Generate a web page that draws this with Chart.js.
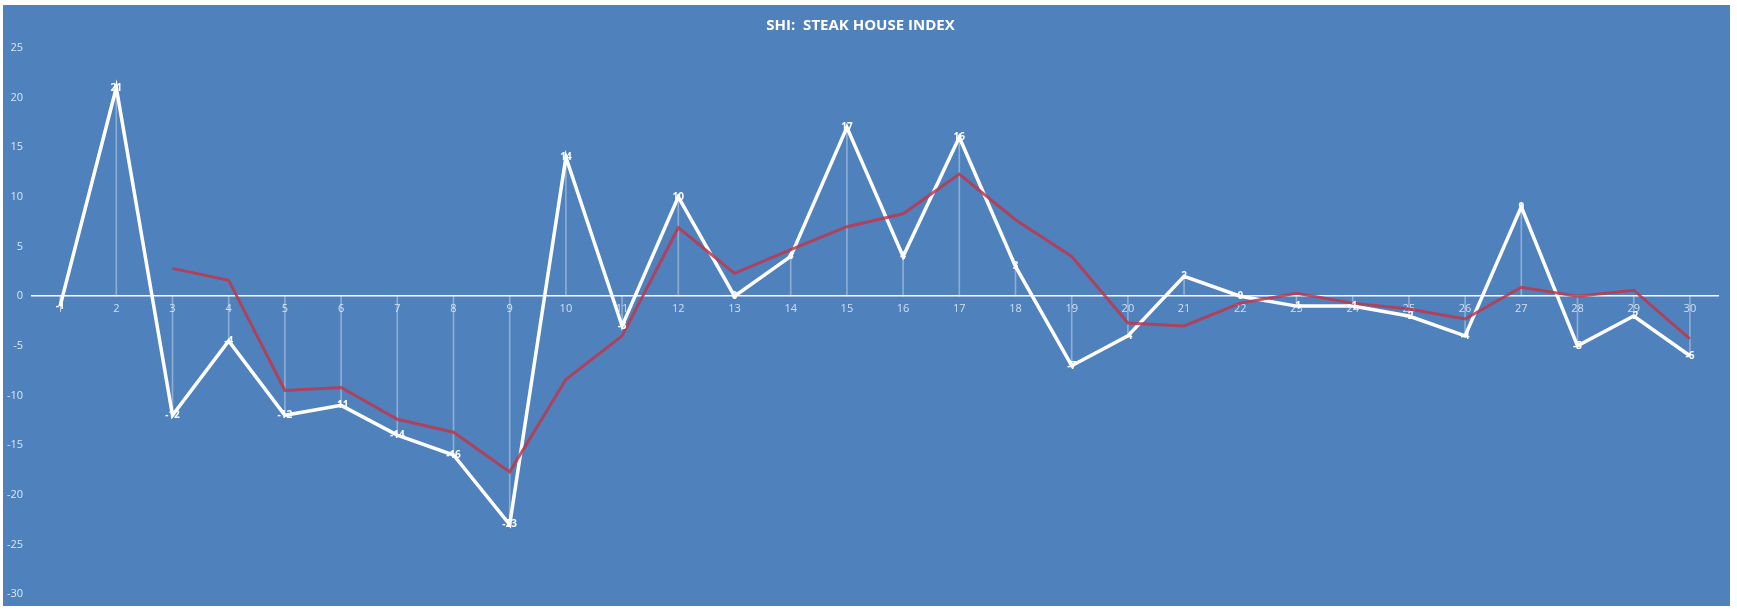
<!DOCTYPE html>
<html>
<head>
<meta charset="utf-8">
<title>SHI: Steak House Index</title>
<script src="https://cdn.jsdelivr.net/npm/chart.js@4.4.1/dist/chart.umd.min.js"></script>
<style>
  html, body { margin: 0; padding: 0; background: #fff; }
  #wrap { position: absolute; left: 3px; top: 5px; width: 1727px; height: 601px; background: #4f81bd; }
</style>
</head>
<body>
<div id="wrap"><canvas id="shiChart" width="1727" height="601"></canvas></div>
<script>
// x categories
const categories = ["1", "2", "3", "4", "5", "6", "7", "8", "9", "10",
  "11", "12", "13", "14", "15", "16", "17", "18", "19", "20",
  "21", "22", "23", "24", "25", "26", "27", "28", "29", "30"];

// SHI values (white line, labelled)
const shiValues = [-1, 21, -12, -4.5, -12, -11, -14, -16, -23, 14,
  -3, 10, 0, 4, 17, 4, 16, 3, -7, -4,
  2, 0, -1, -1, -2, -4, 9, -5, -2, -6];

// trend line (red), starts at 3
const trendValues = [null, null, 2.8, 1.6, -9.5, -9.2, -12.4, -13.7, -17.7, -8.4,
  -4.0, 6.9, 2.3, 4.7, 7.0, 8.3, 12.3, 7.7, 4.0, -2.7,
  -3.0, -0.7, 0.3, -0.7, -1.3, -2.3, 0.9, 0.0, 0.6, -4.3];

// value axis
const yMin = -30;
const yMax = 25;
const yStep = 5;

const fontFamily = '"Open Sans", "Liberation Sans", sans-serif';

// value labels on the white line
const pointLabels = {
  id: "pointLabels",
  afterDatasetsDraw(chart) {
    const ctx = chart.ctx;
    const meta = chart.getDatasetMeta(1);
    ctx.save();
    ctx.font = "bold 10px " + fontFamily;
    ctx.fillStyle = "#ffffff";
    ctx.textAlign = "center";
    ctx.textBaseline = "middle";
    meta.data.forEach((pt, i) => {
      ctx.fillText(String(Math.round(shiValues[i])), pt.x, pt.y);
    });
    ctx.restore();
  }
};

new Chart(document.getElementById("shiChart"), {
  type: "line",
  data: {
    labels: categories,
    datasets: [
      {
        // drop lines from each point to the axis
        type: "bar",
        data: shiValues,
        backgroundColor: "rgba(255, 255, 255, 0.35)",
        borderWidth: 0,
        barThickness: 1,
        order: 2
      },
      {
        label: "SHI",
        data: shiValues,
        borderColor: "#ffffff",
        borderWidth: 3.5,
        pointRadius: 0,
        tension: 0,
        order: 1
      },
      {
        label: "Trend",
        data: trendValues,
        borderColor: "rgba(190, 55, 75, 0.85)",
        borderWidth: 3,
        pointRadius: 0,
        tension: 0,
        spanGaps: false,
        order: 0
      }
    ]
  },
  options: {
    responsive: false,
    animation: false,
    layout: { padding: { left: 0, right: 12, top: 0, bottom: 12 } },
    plugins: {
      legend: { display: false },
      tooltip: { enabled: false },
      title: {
        display: true,
        text: "SHI:  STEAK HOUSE INDEX",
        color: "#ffffff",
        font: { family: fontFamily, size: 15, weight: "bold" },
        padding: { top: 12, bottom: 13 }
      }
    },
    scales: {
      x: {
        position: { y: 0 },
        offset: true,
        grid: { display: false, drawTicks: false },
        border: { display: true, color: "#ffffff", width: 1.5 },
        ticks: {
          color: "rgba(255, 255, 255, 0.75)",
          font: { family: fontFamily, size: 11 },
          padding: 6,
          maxRotation: 0,
          autoSkip: false
        }
      },
      y: {
        min: yMin,
        max: yMax,
        // tick marks hidden with the grid, tickLength only spaces the labels
        grid: { display: false, drawTicks: true, tickLength: 6 },
        border: { display: false },
        ticks: {
          stepSize: yStep,
          color: "rgba(255, 255, 255, 0.8)",
          font: { family: fontFamily, size: 11 },
          padding: 3
        },
        afterFit(scale) { scale.width = 29; }
      }
    }
  },
  plugins: [pointLabels]
});
</script>
</body>
</html>
